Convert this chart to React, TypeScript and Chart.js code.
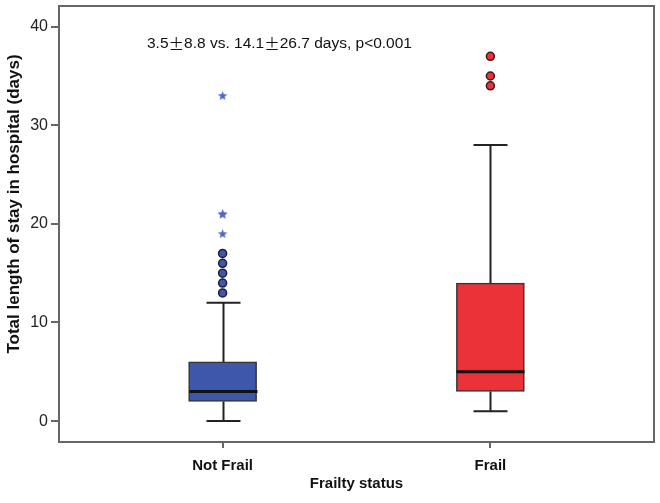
import React, { useEffect, useRef } from 'react';
import { Chart, registerables } from 'chart.js';
Chart.register(...registerables);

const categories = ['Not Frail', 'Frail'];
const lowerWhisker = [0, 1];
const q1 = [2, 3];
const median = [3, 5];
const q3 = [6, 14];
const upperWhisker = [12, 28];
const notFrailCircles = [13, 14, 15, 16, 17];
const notFrailStars = [19, 21, 21, 33];
const frailCircles = [34, 35, 37];
const yTicks = [0, 10, 20, 30, 40];
const boxColors = ['rgb(62,87,170)', 'rgb(234,50,56)'];
const annotationParts = ['3.5', '\u00B1', '8.8 vs. 14.1', '\u00B1', '26.7 days, p<0.001'];
const yTitle = 'Total length of stay in hospital (days)';
const xTitle = 'Frailty status';

const FONT = '"Liberation Sans", Arial, Helvetica, sans-serif';
const CJK = '"Noto Sans CJK SC", sans-serif';

function makeStar(): HTMLCanvasElement {
  const c = document.createElement('canvas');
  c.width = 11; c.height = 11;
  const g = c.getContext('2d')!;
  g.fillStyle = 'rgb(80,105,200)';
  g.beginPath();
  const cx = 5.5, cy = 5.8, R = 5, r = 2.1;
  for (let i = 0; i < 10; i++) {
    const a = -Math.PI / 2 + (i * Math.PI) / 5;
    const rad = i % 2 === 0 ? R : r;
    const px = cx + rad * Math.cos(a), py = cy + rad * Math.sin(a);
    if (i === 0) g.moveTo(px, py); else g.lineTo(px, py);
  }
  g.closePath();
  g.fill();
  return c;
}

const boxExtras = {
  id: 'boxExtras',
  afterDatasetsDraw(chart: any) {
    const { ctx, scales } = chart;
    const x = scales.x, y = scales.y;
    ctx.save();
    categories.forEach((_c, i) => {
      const cx = Math.round(x.getPixelForValue(i + 1)) + 0.5;
      const boxHalf = 34;
      const capHalf = 17;
      ctx.strokeStyle = '#222';
      ctx.lineWidth = 2;
      ctx.beginPath();
      ctx.moveTo(cx, y.getPixelForValue(lowerWhisker[i]));
      ctx.lineTo(cx, y.getPixelForValue(q1[i]));
      ctx.moveTo(cx, y.getPixelForValue(q3[i]));
      ctx.lineTo(cx, y.getPixelForValue(upperWhisker[i]));
      ctx.moveTo(cx - capHalf, y.getPixelForValue(lowerWhisker[i]));
      ctx.lineTo(cx + capHalf, y.getPixelForValue(lowerWhisker[i]));
      ctx.moveTo(cx - capHalf, y.getPixelForValue(upperWhisker[i]));
      ctx.lineTo(cx + capHalf, y.getPixelForValue(upperWhisker[i]));
      ctx.stroke();
      ctx.strokeStyle = '#111';
      ctx.lineWidth = 3;
      ctx.beginPath();
      ctx.moveTo(cx - boxHalf, y.getPixelForValue(median[i]));
      ctx.lineTo(cx + boxHalf, y.getPixelForValue(median[i]));
      ctx.stroke();
    });
    ctx.restore();
  },
  afterDraw(chart: any) {
    const { ctx, chartArea } = chart;
    ctx.save();
    ctx.strokeStyle = '#666';
    ctx.lineWidth = 2;
    ctx.strokeRect(chartArea.left, chartArea.top, chartArea.right - chartArea.left, chartArea.bottom - chartArea.top);
    // annotation text
    ctx.fillStyle = '#111';
    ctx.textBaseline = 'middle';
    ctx.textAlign = 'left';
    let tx = chartArea.left + 88;
    const ty = chartArea.top + 38;
    annotationParts.forEach((p) => {
      ctx.font = p === '\u00B1' ? `15.5px ${CJK}` : `15.5px ${FONT}`;
      ctx.fillText(p, tx, ty);
      tx += ctx.measureText(p).width;
    });
    // y title
    ctx.translate(14, 204);
    ctx.rotate(-Math.PI / 2);
    ctx.textAlign = 'center';
    ctx.font = `bold 17px ${FONT}`;
    ctx.fillText(yTitle, 0, 0);
    ctx.restore();
  },
};

export default function App() {
  const ref = useRef<HTMLCanvasElement>(null);
  useEffect(() => {
    document.body.style.margin = '0';
    const star = makeStar();
    const chart = new Chart(ref.current!, {
      type: 'bar',
      data: {
        datasets: [
          {
            type: 'bar',
            data: categories.map((_c, i) => ({ x: i + 1, y: [q1[i], q3[i]] })) as any,
            backgroundColor: boxColors,
            borderColor: '#333',
            borderWidth: 1.5,
            borderSkipped: false,
            barThickness: 68,
            order: 2,
          } as any,
          {
            type: 'scatter',
            data: notFrailCircles.map((v) => ({ x: 1, y: v })),
            pointStyle: 'circle',
            pointRadius: 4,
            backgroundColor: 'rgb(62,87,170)',
            borderColor: '#1b1f3a',
            borderWidth: 1.5,
            order: 1,
          } as any,
          {
            type: 'scatter',
            data: notFrailStars.map((v) => ({ x: 1, y: v })),
            pointStyle: star,
            pointRadius: 5,
            order: 1,
          } as any,
          {
            type: 'scatter',
            data: frailCircles.map((v) => ({ x: 2, y: v })),
            pointStyle: 'circle',
            pointRadius: 4,
            backgroundColor: 'rgb(234,50,56)',
            borderColor: '#3a1a1a',
            borderWidth: 1.5,
            order: 1,
          } as any,
        ],
      },
      options: {
        responsive: false,
        animation: false,
        layout: { padding: { top: 4, right: 5, left: 0, bottom: 0 } },
        plugins: { legend: { display: false }, tooltip: { enabled: false } },
        scales: {
          x: {
            type: 'linear',
            offset: false,
            min: 0.389,
            max: 2.611,
            afterBuildTicks: (s: any) => { s.ticks = categories.map((_c, i) => ({ value: i + 1 })); },
            afterFit: (s: any) => { s.height = 61; s.paddingLeft = 0; s.paddingRight = 0; },
            ticks: {
              callback: (v: any) => categories[Math.round(v) - 1] ?? '',
              font: { family: FONT, size: 15, weight: 'bold' },
              color: '#111',
              padding: 9,
              autoSkip: false,
              maxRotation: 0,
            },
            grid: { offset: false, drawOnChartArea: false, drawTicks: true, tickLength: 6, color: '#666', lineWidth: 2 },
            border: { display: false },
            title: {
              display: true,
              text: xTitle,
              font: { family: FONT, size: 15, weight: 'bold' },
              color: '#111',
              padding: { top: 4, bottom: 10 },
            },
          },
          y: {
            type: 'linear',
            min: -2.12,
            max: 42.1,
            afterBuildTicks: (s: any) => { s.ticks = yTicks.map((v) => ({ value: v })); },
            afterFit: (s: any) => { s.width = 59; s.paddingTop = 0; s.paddingBottom = 0; },
            ticks: {
              font: { family: FONT, size: 16 },
              color: '#222',
              padding: 3,
            },
            grid: { drawOnChartArea: false, drawTicks: true, tickLength: 8, color: '#666', lineWidth: 2 },
            border: { display: false },
            title: { display: false },
          },
        },
      },
      plugins: [boxExtras],
    } as any);
    return () => chart.destroy();
  }, []);
  return <canvas ref={ref} width={660} height={503} style={{ display: 'block' }} />;
}
